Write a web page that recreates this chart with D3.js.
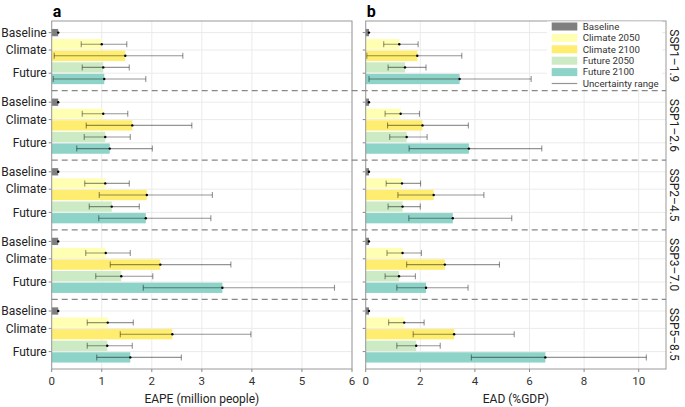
<!DOCTYPE html>
<html><head><meta charset="utf-8">
<script src="https://cdn.jsdelivr.net/npm/d3@7"></script>
<style>body{margin:0;background:#fff}svg{display:block}text{font-family:Roboto,"Noto Sans",sans-serif;}</style>
</head><body><div id="c"></div>
<script>
const facets = ["SSP1\u20131.9","SSP1\u20132.6","SSP2\u20134.5","SSP3\u20137.0","SSP5\u20138.5"];
const series = ["Baseline","Climate 2050","Climate 2100","Future 2050","Future 2100"];
const rowLabels = ["Baseline","Climate","Future"];
const colors = ["#7f7f7f","#ffffb3","#ffed6f","#ccebc5","#8dd3c7"];
const ticksA = [0,1,2,3,4,5,6];
const ticksB = [0,2,4,6,8,10];

// EAPE (million people): per facet, per series
const eapeMean = [
  [0.13,1.00,1.47,1.03,1.05],
  [0.13,1.03,1.61,1.07,1.16],
  [0.13,1.07,1.90,1.20,1.88],
  [0.13,1.08,2.17,1.39,3.41],
  [0.13,1.12,2.41,1.11,1.57]];
const eapeLow = [
  [0.12,0.59,0.05,0.61,0.03],
  [0.12,0.61,0.69,0.65,0.50],
  [0.12,0.66,0.95,0.75,0.94],
  [0.12,0.68,1.17,0.88,1.83],
  [0.12,0.71,1.37,0.71,0.90]];
const eapeHigh = [
  [0.14,1.50,2.62,1.55,1.88],
  [0.14,1.52,2.80,1.57,2.01],
  [0.14,1.55,3.21,1.75,3.18],
  [0.14,1.57,3.58,2.02,5.65],
  [0.14,1.63,3.98,1.61,2.59]];
// EAD (%GDP)
const eadMean = [
  [0.12,1.23,1.89,1.44,3.44],
  [0.12,1.28,2.08,1.50,3.78],
  [0.12,1.33,2.49,1.35,3.19],
  [0.12,1.35,2.90,1.22,2.21],
  [0.12,1.41,3.24,1.85,6.58]];
const eadLow = [
  [0.11,0.66,0.04,0.82,0.12],
  [0.11,0.71,0.80,0.88,1.59],
  [0.11,0.75,1.18,0.82,1.58],
  [0.11,0.78,1.50,0.71,1.14],
  [0.11,0.84,1.74,1.14,3.87]];
const eadHigh = [
  [0.14,1.92,3.52,2.21,6.06],
  [0.14,1.97,3.76,2.25,6.45],
  [0.14,2.01,4.33,2.00,5.35],
  [0.14,2.04,4.90,1.82,3.75],
  [0.14,2.14,5.44,2.73,10.28]];

const W=685,H=407;
const plotTop=21,plotBottom=369;
const svg=d3.select("#c").append("svg").attr("width",W).attr("height",H);

const fy=d3.scaleBand().domain(facets).range([plotTop,plotBottom]).padding(0);
const ry=d3.scalePoint().domain(series).range([0,fy.bandwidth()]).padding(1);
const labelPos = {Baseline: ry("Baseline"), Climate:(ry("Climate 2050")+ry("Climate 2100"))/2, Future:(ry("Future 2050")+ry("Future 2100"))/2};
const color=d3.scaleOrdinal().domain(series).range(colors);

function panel(x0,x1,domain,ticks,mean,low,high,title,letter,showY){
  const x=d3.scaleLinear().domain(domain).range([x0,x1]);
  const g=svg.append("g");
  g.selectAll(".vg").data(ticks).join("line").attr("x1",d=>x(d)).attr("x2",d=>x(d))
    .attr("y1",plotTop).attr("y2",plotBottom).attr("stroke","#ebebeb").attr("stroke-width",1);
  facets.forEach(f=>{
    rowLabels.forEach(r=>{
      const y=fy(f)+labelPos[r];
      g.append("line").attr("x1",x0).attr("x2",x1).attr("y1",y).attr("y2",y).attr("stroke","#ebebeb");
      g.append("line").attr("x1",x0-3).attr("x2",x0).attr("y1",y).attr("y2",y).attr("stroke","#888");
      if(showY) g.append("text").attr("x",x0-5).attr("y",y).attr("dy","0.35em").attr("text-anchor","end")
        .attr("font-size",12).attr("fill","#222").text(r);
    });
  });
  facets.forEach((f,i)=>{
    series.forEach((s,j)=>{
      const h = j===0?7.3:10.3;
      const yc=fy(f)+ry(s);
      g.append("rect").attr("x",x(0)).attr("y",yc-h/2).attr("width",x(mean[i][j])-x(0)).attr("height",h)
        .attr("fill",color(s));
      const eb=g.append("g").attr("stroke","#000").attr("stroke-opacity",0.42).attr("stroke-width",1.1);
      eb.append("line").attr("x1",x(low[i][j])).attr("x2",x(high[i][j])).attr("y1",yc).attr("y2",yc);
      if(j>0){
        [low[i][j],high[i][j]].forEach(v=>eb.append("line").attr("x1",x(v)).attr("x2",x(v)).attr("y1",yc-3).attr("y2",yc+3));
      }
      g.append("circle").attr("cx",x(mean[i][j])).attr("cy",yc).attr("r",1.2).attr("fill","#000");
    });
  });
  g.append("rect").attr("x",x0).attr("y",plotTop).attr("width",x1-x0).attr("height",plotBottom-plotTop)
    .attr("fill","none").attr("stroke","#999").attr("stroke-width",1);
  ticks.forEach(t=>{
    g.append("line").attr("x1",x(t)).attr("x2",x(t)).attr("y1",plotBottom).attr("y2",plotBottom+3).attr("stroke","#888");
    g.append("text").attr("x",x(t)).attr("y",plotBottom+12).attr("dy","0.35em").attr("text-anchor","middle")
      .attr("font-size",11.5).attr("fill","#333").text(t);
  });
  g.append("text").attr("x",(x0+x1)/2).attr("y",399).attr("dy","0.35em").attr("text-anchor","middle")
    .attr("font-size",12).attr("fill","#222").text(title);
  svg.append("text").attr("x",x0+1).attr("y",17).attr("font-size",16).attr("font-weight","bold")
    .attr("fill","#000").text(letter);
  return x;
}

panel(51.7,352,[0,6],ticksA,eapeMean,eapeLow,eapeHigh,"EAPE (million people)","a",true);
panel(365.7,666,[0,11],ticksB,eadMean,eadLow,eadHigh,"EAD (%GDP)","b",false);

facets.slice(1).forEach(f=>{
  svg.append("line").attr("x1",51.7).attr("x2",666).attr("y1",fy(f)).attr("y2",fy(f))
    .attr("stroke","#888").attr("stroke-width",1.3).attr("stroke-dasharray","6,4");
});

facets.forEach(f=>{
  const y=fy(f)+fy.bandwidth()/2;
  svg.append("text").attr("transform",`translate(674,${y}) rotate(90)`).attr("text-anchor","middle")
    .attr("dy","0.35em").attr("font-size",12).attr("fill","#222").text(f);
});

const lg=svg.append("g");
lg.append("rect").attr("x",547).attr("y",21.5).attr("width",115).attr("height",67.5).attr("fill","#fff");
const legItems=series.concat(["Uncertainty range"]);
const ly=d3.scalePoint().domain(legItems).range([26.5,83.5]);
legItems.forEach((s,i)=>{
  const y=ly(s);
  if(i<series.length){
    lg.append("rect").attr("x",551.7).attr("y",y-4).attr("width",25.6).attr("height",8).attr("fill",color(s));
  } else {
    lg.append("line").attr("x1",551.7).attr("x2",577.3).attr("y1",y).attr("y2",y).attr("stroke","#000")
      .attr("stroke-opacity",0.42).attr("stroke-width",1.2);
  }
  lg.append("text").attr("x",582.7).attr("y",y).attr("dy","0.35em").attr("font-size",9.7).attr("fill","#333").text(s);
});
</script></body></html>
